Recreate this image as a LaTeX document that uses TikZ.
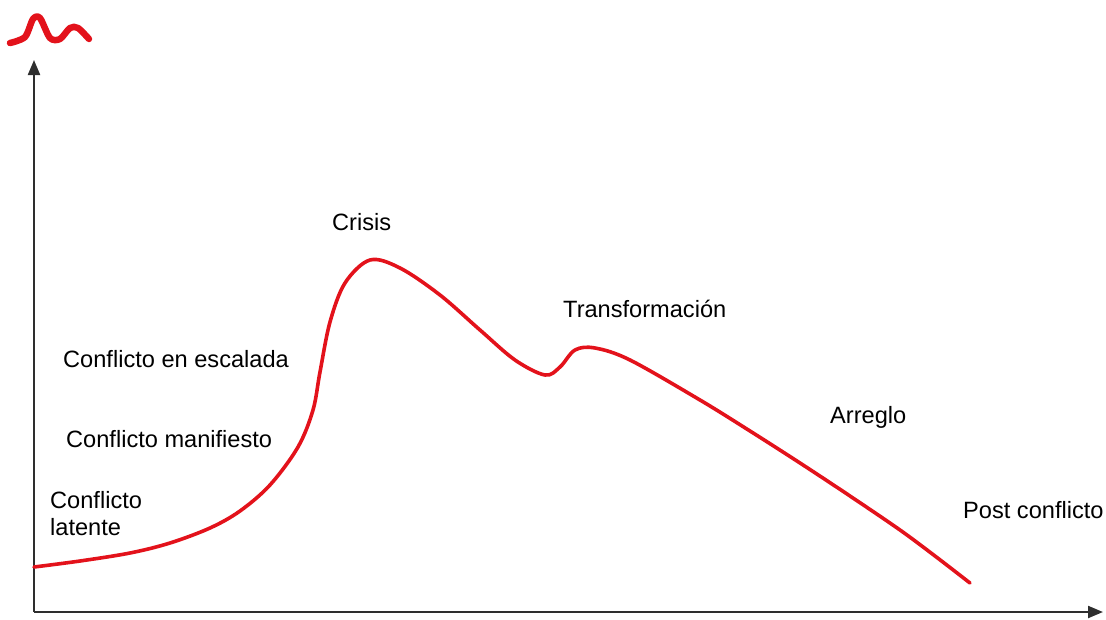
\documentclass[tikz,border=0pt]{standalone}
\usepackage{fontspec}
\setmainfont{Liberation Sans}
\usetikzlibrary{arrows.meta}
\definecolor{curvered}{HTML}{E3121B}
\definecolor{axisgray}{HTML}{2E2E2E}
\begin{document}
\begin{tikzpicture}[x=1pt,y=-1pt,
  lbl/.style={anchor=base west,inner sep=0pt,font=\fontsize{23.6}{27}\selectfont,align=left},
  axisline/.style={draw=axisgray,line width=2.2pt,-{Triangle[length=15pt,width=12pt]}},
  curveline/.style={draw=curvered,line width=3.6pt,line cap=round,line join=round}]
\useasboundingbox (0,0) rectangle (1106,619);
\coordinate (O) at (34,612);
\coordinate (ytip) at (34,60);
\coordinate (xtip) at (1103,612);
\draw[axisline] (O) -- (ytip);
\draw[axisline] (O) -- (xtip);
% icon
\draw[curveline,line width=6.5pt] plot[smooth,tension=0.5] coordinates {(10,43) (25,37) (33,19) (40,18) (50,38) (60,39) (70,28) (78,28) (89,39)};
% curve
\draw[curveline] plot[smooth,tension=0.55] coordinates {
 (34,567) (80,561) (130,553) (170,543) (210,528) (240,511) (270,485) (298,447) (313,410) (320,372) (330,322) (345,283) (370,260) (400,268) (440,295) (480,330) (515,360) (545,375) (560,367) (575,350) (595,348) (630,360) (700,400) (750,431) (800,463) (850,496) (900,530) (935,556) (970,583)};
\node[lbl] (crisis) at (332,230) {Crisis};
\node[lbl] (transf) at (563,317) {Transformación};
\node[lbl] (escal) at (63,367) {Conflicto en escalada};
\node[lbl] (manif) at (66,447) {Conflicto manifiesto};
\node[lbl] (latente) at (50,535) {Conflicto\\latente};
\node[lbl] (arreglo) at (830,423) {Arreglo};
\node[lbl] (post) at (963,518) {Post conflicto};
\end{tikzpicture}
\end{document}
